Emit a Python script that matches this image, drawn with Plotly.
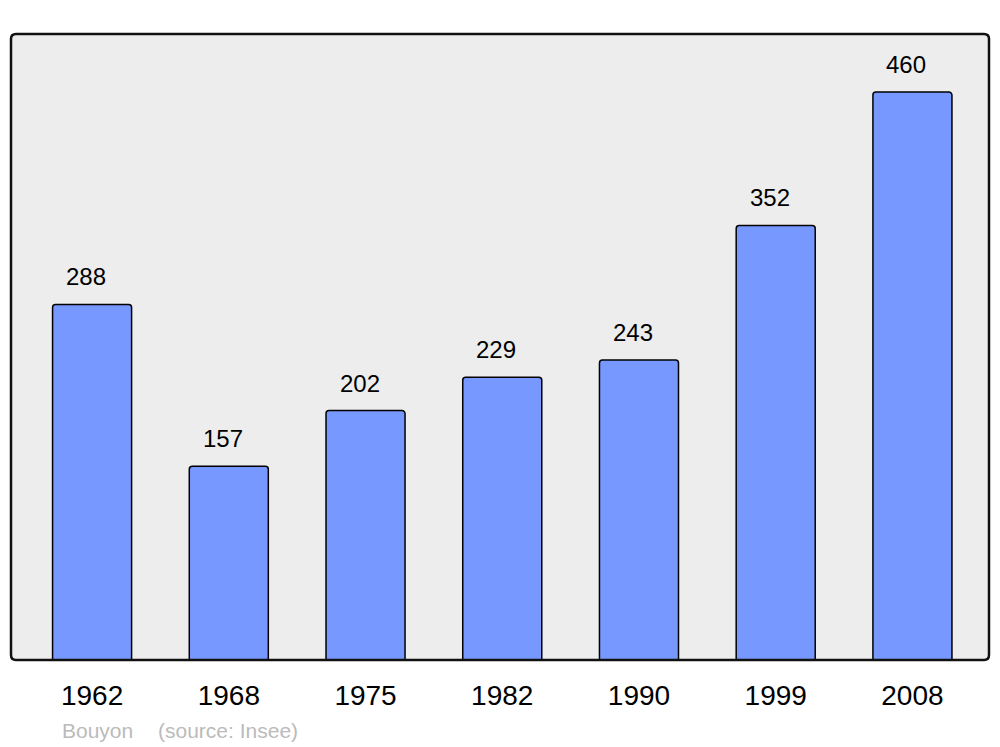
import plotly.graph_objects as go

years = ["1962", "1968", "1975", "1982", "1990", "1999", "2008"]
population = [288, 157, 202, 229, 243, 352, 460]
commune = "Bouyon"
source = "(source: Insee)"

FONT = "Liberation Sans, Arial, sans-serif"
# page has an 8px body margin: figure coords = page coords - 8
W, H = 992, 739
L, T, R, B = 3, 26, 11, 87
pw, ph = W - L - R, H - T - B

fig = go.Figure()
fig.add_trace(go.Bar(
    x=years, y=population, width=0.578,
    marker=dict(color="#7799ff", line=dict(color="black", width=1.5), cornerradius=3),
    hoverinfo="skip",
))

for i, v in enumerate(population):
    fig.add_annotation(x=i, y=v, text=str(v), showarrow=False, yanchor="bottom",
                       yshift=12, xshift=-6,
                       font=dict(family=FONT, size=24, color="black"))

fig.add_annotation(xref="paper", yref="paper", x=(60-11)/pw, y=-(730-660)/ph,
                   xanchor="left", yanchor="middle", text=commune, showarrow=False,
                   font=dict(family=FONT, size=21, color="#bbbbbb"))
fig.add_annotation(xref="paper", yref="paper", x=(156-11)/pw, y=-(730-660)/ph,
                   xanchor="left", yanchor="middle", text=source, showarrow=False,
                   font=dict(family=FONT, size=21, color="#bbbbbb"))

# rounded border
rx, ry = 5/pw, 5/ph
path = (f"M {rx},0 L {1-rx},0 Q 1,0 1,{ry} L 1,{1-ry} Q 1,1 {1-rx},1 "
        f"L {rx},1 Q 0,1 0,{1-ry} L 0,{ry} Q 0,0 {rx},0 Z")
fig.add_shape(type="path", xref="paper", yref="paper", path=path,
              line=dict(color="#111111", width=2.5), layer="above")

fig.update_layout(
    width=W, height=H,
    margin=dict(l=L, r=R, t=T, b=B),
    paper_bgcolor="white", plot_bgcolor="#ededed",
    showlegend=False,
    xaxis=dict(type="category", range=[-0.593, 6.56], showgrid=False, zeroline=False,
               ticks="outside", ticklen=10, tickcolor="rgba(0,0,0,0)",
               tickfont=dict(family=FONT, size=28, color="black")),
    yaxis=dict(range=[0, 507], showgrid=False, zeroline=False, showticklabels=False, ticks=""),
)

fig.write_html("out.html")
